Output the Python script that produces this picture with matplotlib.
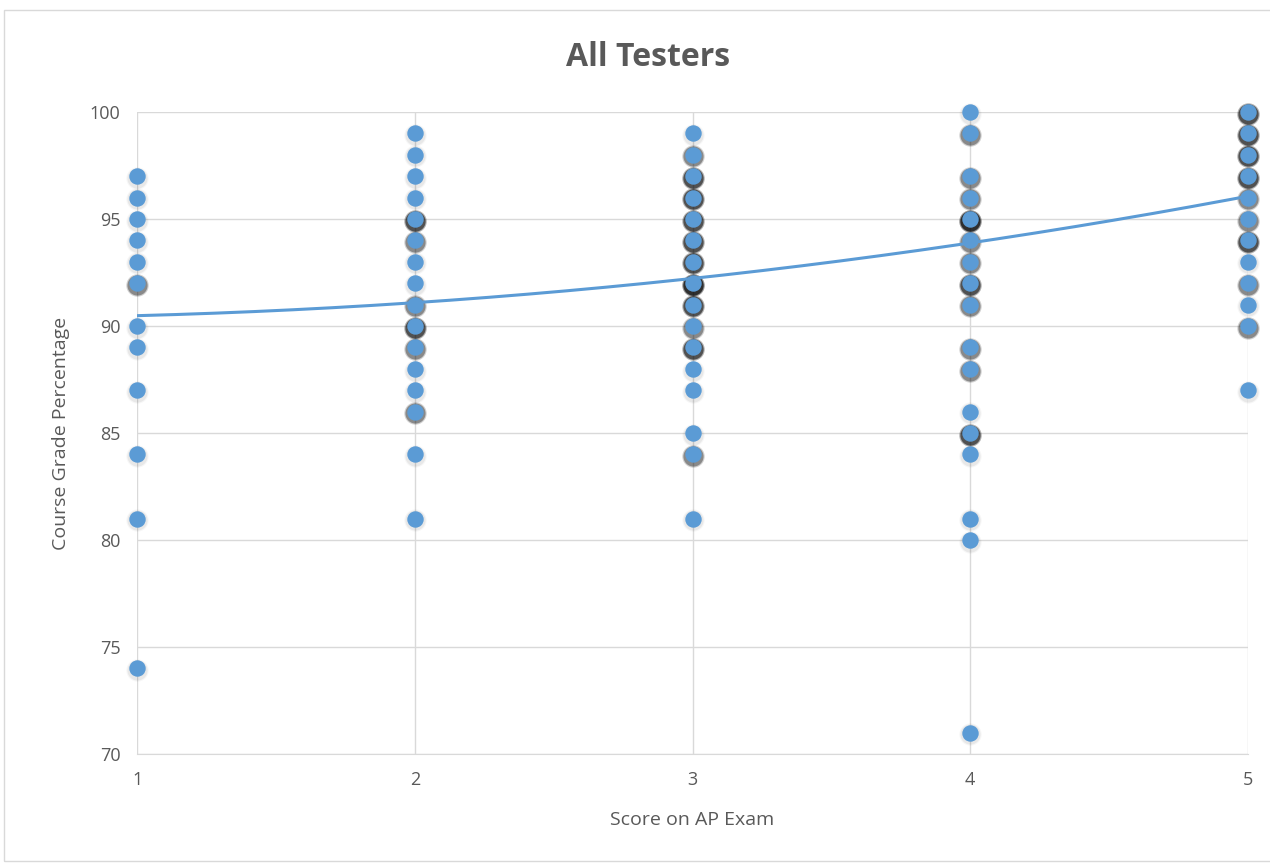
import numpy as np
import matplotlib.pyplot as plt
from matplotlib.patches import Rectangle

plt.rcParams['font.family'] = ['Open Sans', 'DejaVu Sans']

# grades for each AP score, with a rough count of stacked points
grades_1 = [97, 96, 95, 94, 93, 92, 90, 89, 87, 84, 81, 74]
count_1 = [1, 1, 1, 1, 1, 2, 1, 1, 1, 1, 1, 1]
grades_2 = [99, 98, 97, 96, 95, 94, 93, 92, 91, 90, 89, 88, 87, 86, 84, 81]
count_2 = [1, 1, 1, 1, 3, 2, 1, 1, 2, 3, 2, 1, 1, 2, 1, 1]
grades_3 = [99, 98, 97, 96, 95, 94, 93, 92, 91, 90, 89, 88, 87, 85, 84, 81]
count_3 = [1, 2, 3, 3, 3, 3, 3, 4, 3, 2, 3, 1, 1, 1, 2, 1]
grades_4 = [100, 99, 97, 96, 95, 94, 93, 92, 91, 89, 88, 86, 85, 84, 81, 80, 71]
count_4 = [1, 2, 2, 2, 4, 2, 2, 3, 2, 2, 2, 1, 3, 1, 1, 1, 1]
grades_5 = [100, 99, 98, 97, 96, 95, 94, 93, 92, 91, 90, 87]
count_5 = [3, 3, 3, 3, 2, 2, 3, 1, 2, 1, 2, 1]

scores = [1, 2, 3, 4, 5]
# trendline values read at each score
trend_y = [90.47, 91.12, 92.2, 93.88, 96.07]

blue = '#5B9BD5'
gray = '#595959'

fig = plt.figure(figsize=(12.7, 8.64), dpi=100)
ax = fig.add_axes([0.1079, 0.1273, 0.8748, 0.7431])

groups = [(grades_1, count_1), (grades_2, count_2), (grades_3, count_3),
          (grades_4, count_4), (grades_5, count_5)]

for sc, (g, c) in zip(scores, groups):
    g = np.array(g)
    c = np.array(c)
    xs = np.full(len(g), sc)
    # soft shadow, darker where points are stacked
    for k in range(1, c.max() + 1):
        m = c >= k
        a = 0.06 if k == 1 else 0.3
        for sz, af in [(260, 0.5), (210, 1.0)]:
            ax.scatter(xs[m], g[m] - 0.08, s=sz, color='black',
                       alpha=a * af, linewidths=0, zorder=2, clip_on=False)
    ax.scatter(xs, g, s=140, color=blue, linewidths=0, zorder=3, clip_on=False)

p = np.polyfit(scores, trend_y, 2)
xt = np.linspace(1, 5, 200)
ax.plot(xt, np.polyval(p, xt), color=blue, lw=2.2, zorder=4)

ax.set_xlim(1, 5)
ax.set_ylim(70, 100)
ax.set_xticks(scores)
ax.set_yticks(range(70, 101, 5))
ax.grid(True, color='#D9D9D9', lw=1)
ax.set_axisbelow(True)
for s in ['top', 'right', 'left']:
    ax.spines[s].set_visible(False)
ax.spines['bottom'].set_color('#D9D9D9')
ax.tick_params(length=0, colors=gray, labelsize=13)
ax.tick_params(axis='x', pad=12)
ax.tick_params(axis='y', pad=12)

ax.set_xlabel('Score on AP Exam', color=gray, fontsize=14, labelpad=16)
ax.set_ylabel('Course Grade Percentage', color=gray, fontsize=14, labelpad=14)
fig.text(0.51, 0.934, 'All Testers', ha='center', va='center',
         fontsize=23, fontweight='bold', color=gray)

fig.patches.append(Rectangle((0.003, 0.003), 1.2, 0.986, transform=fig.transFigure,
                             fill=False, edgecolor='#D9D9D9', lw=1))

fig.savefig('out.png', dpi=100)
